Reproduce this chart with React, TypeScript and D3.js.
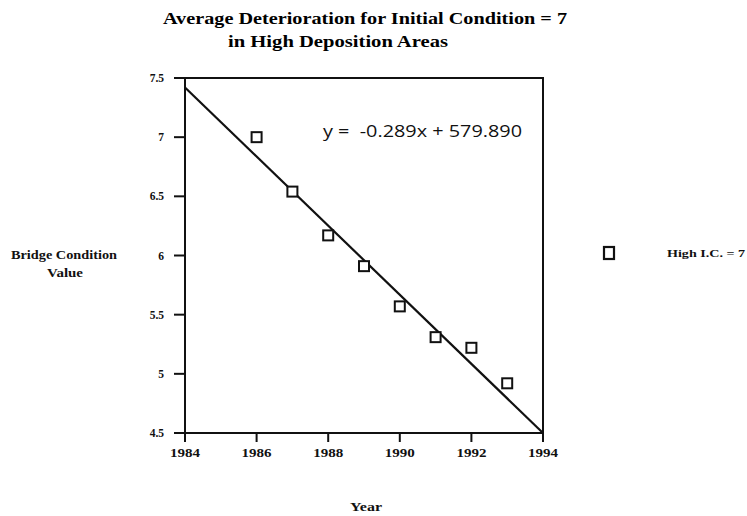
import React from "react";
import * as d3 from "d3";

const years = [1986, 1987, 1988, 1989, 1990, 1991, 1992, 1993];
const values = [7.0, 6.54, 6.17, 5.91, 5.57, 5.31, 5.22, 4.92];
const trendYears = [1984, 1994];
const trendValues = [7.42, 4.5];
const xTicks = [1984, 1986, 1988, 1990, 1992, 1994];
const yTicks = [4.5, 5, 5.5, 6, 6.5, 7, 7.5];
const yTickLabels = ["4.5", "5", "5.5", "6", "6.5", "7", "7.5"];
const titleLines = ["Average Deterioration for Initial Condition = 7", "in High Deposition Areas"];
const equationText = "y =  -0.289x + 579.890";
const legendLabel = "High I.C. = 7";

export default function App() {
  const W = 747, H = 516;
  const left = 185, right = 543, top = 78, bottom = 433;
  const x = d3.scaleLinear().domain([1984, 1994]).range([left, right]);
  const y = d3.scaleLinear().domain([4.5, 7.5]).range([bottom, top]);
  const line = d3.line<number>().x((d, i) => x(trendYears[i])).y((d) => y(d));
  const serif = "'Liberation Serif', 'DejaVu Serif', serif";
  const sans = "'Open Sans', 'Liberation Sans', sans-serif";
  return (
    <svg width={W} height={H} style={{ position: "absolute", left: 0, top: 0, background: "#fff" }}>
      <text x={365} y={24} textAnchor="middle" fontFamily={serif} fontWeight="bold" fontSize={17} fill="#000" textLength={404} lengthAdjust="spacingAndGlyphs">{titleLines[0]}</text>
      <text x={228} y={47} textAnchor="start" fontFamily={serif} fontWeight="bold" fontSize={17} fill="#000" textLength={220} lengthAdjust="spacingAndGlyphs">{titleLines[1]}</text>
      <rect x={left} y={top} width={right - left} height={bottom - top} fill="none" stroke="#111" strokeWidth={2} />
      {yTicks.map((t, i) => (
        <g key={"y" + t}>
          <line x1={left - 11} x2={left} y1={y(t)} y2={y(t)} stroke="#111" strokeWidth={2} />
          <text x={164} y={y(t)} dy="0.35em" textAnchor="end" fontFamily={serif} fontWeight="bold" fontSize={11.5} fill="#111">{yTickLabels[i]}</text>
        </g>
      ))}
      {xTicks.map((t) => (
        <g key={"x" + t}>
          <line x1={x(t)} x2={x(t)} y1={bottom} y2={bottom + 9} stroke="#111" strokeWidth={2} />
          <text x={x(t)} y={453} dy="0.35em" textAnchor="middle" fontFamily={serif} fontWeight="bold" fontSize={12} fill="#111" textLength={30} lengthAdjust="spacingAndGlyphs">{t}</text>
        </g>
      ))}
      <path d={line(trendValues) || ""} fill="none" stroke="#111" strokeWidth={2.2} />
      {years.map((yr, i) => (
        <rect key={yr} x={x(yr) - 5} y={y(values[i]) - 5} width={10} height={10} fill="#fff" stroke="#111" strokeWidth={2} />
      ))}
      <text x={323} y={137} fontFamily={sans} fontSize={17} fill="#111" textLength={199} lengthAdjust="spacingAndGlyphs" style={{ whiteSpace: "pre" }}>{equationText}</text>
      <text x={64} y={259} textAnchor="middle" fontFamily={serif} fontWeight="bold" fontSize={12} fill="#111" textLength={106} lengthAdjust="spacingAndGlyphs">Bridge Condition</text>
      <text x={65} y={277} textAnchor="middle" fontFamily={serif} fontWeight="bold" fontSize={12} fill="#111" textLength={36} lengthAdjust="spacingAndGlyphs">Value</text>
      <text x={366} y={511} textAnchor="middle" fontFamily={serif} fontWeight="bold" fontSize={12} fill="#111" textLength={32} lengthAdjust="spacingAndGlyphs">Year</text>
      <rect x={604} y={247} width={10} height={12} fill="#fff" stroke="#111" strokeWidth={2.2} />
      <text x={667} y={253} dy="0.35em" fontFamily={serif} fontWeight="bold" fontSize={11} fill="#111" textLength={78} lengthAdjust="spacingAndGlyphs">{legendLabel}</text>
    </svg>
  );
}
